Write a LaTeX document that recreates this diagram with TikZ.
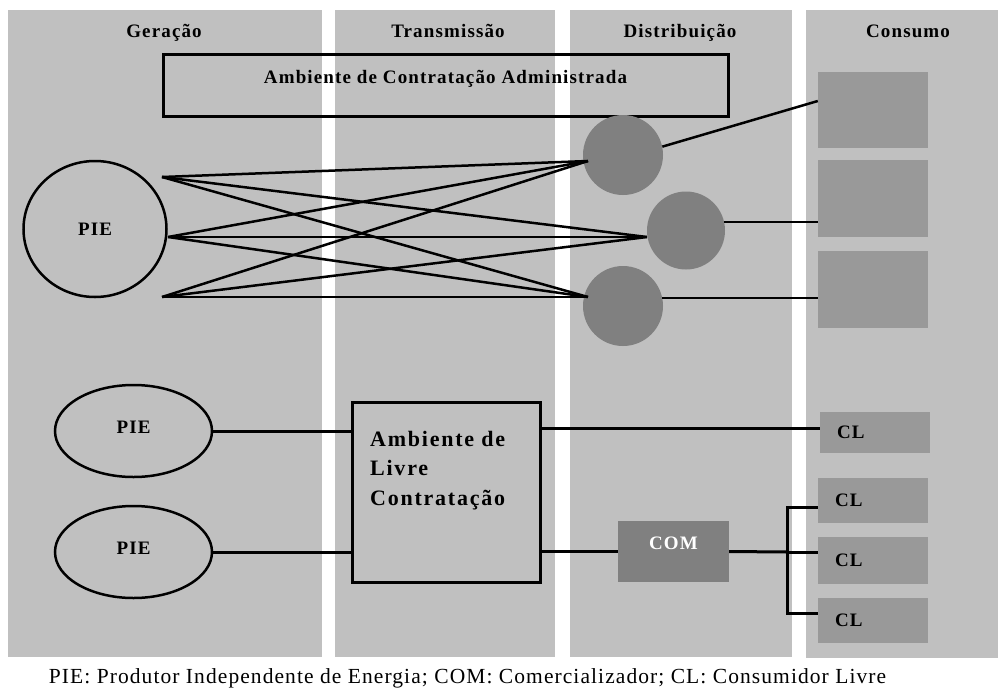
\documentclass[tikz,border=0pt]{standalone}
\usepackage{fontspec}
\setmainfont{Liberation Serif}
\newfontfamily\lblfont[LetterSpace=6]{Liberation Serif}
\newfontfamily\bigfont[LetterSpace=8]{Liberation Serif}
\newfontfamily\capfont[LetterSpace=5]{Liberation Serif}
\usetikzlibrary{shapes.geometric}
\definecolor{panel}{HTML}{C0C0C0}
\definecolor{consbox}{HTML}{999999}
\definecolor{hub}{HTML}{808080}
\begin{document}
\begin{tikzpicture}[x=1pt,y=-1pt,
  hdr/.style={font=\lblfont\bfseries\fontsize{19}{21}\selectfont, anchor=base},
  lbl/.style={font=\lblfont\bfseries\fontsize{19}{21}\selectfont},
  big/.style={font=\bigfont\bfseries\fontsize{22}{29.5}\selectfont},
  gen/.style={ellipse, draw, line width=2.5pt, inner sep=0pt},
  dist/.style={circle, fill=hub, inner sep=0pt},
  cons/.style={rectangle, fill=consbox, inner sep=0pt, minimum width=110pt},
  clbox/.style={rectangle, fill=consbox, lbl, inner xsep=17pt, inner ysep=0pt,
    text width=76pt, align=left},
  fan/.style={line width=2.5pt},
  wire/.style={line width=3pt},
  thin/.style={line width=2pt}]
\useasboundingbox (0,0) rectangle (998,691);
\fill[white] (0,0) rectangle (998,691);
% column backgrounds
\fill[panel] (8,10) rectangle (322,657);
\fill[panel] (335,10) rectangle (555,657);
\fill[panel] (570,10) rectangle (792,657);
\fill[panel] (806,10) rectangle (998,658);
% column titles
\node[hdr] (hgen) at (164,37.5) {Geração};
\node[hdr] (htra) at (448,37.5) {Transmissão};
\node[hdr] (hdis) at (680,37.5) {Distribuição};
\node[hdr] (hcon) at (908,37.5) {Consumo};
% regulated contracting environment
\node[draw, line width=3pt, minimum width=565pt, minimum height=62pt,
  lbl, text height=12.5pt, text depth=15.5pt] (aca) at (445.5,85)
  {Ambiente de Contratação Administrada};
% consumers of the regulated environment
\node[cons, minimum height=76pt] (cons1) at (873,110) {};
\node[cons, minimum height=77pt] (cons2) at (873,198.5) {};
\node[cons, minimum height=77pt] (cons3) at (873,289.5) {};
% distributors
\node[dist, minimum size=80pt] (c1) at (623,155) {};
\node[dist, minimum size=78pt] (c2) at (686,230.5) {};
\node[dist, minimum size=80pt] (c3) at (623,306) {};
% independent producer
\node[gen, minimum width=143pt, minimum height=136pt, lbl] (pie) at (95,229) {PIE};
\coordinate (pa) at (162,177);
\coordinate (pb) at (168,237);
\coordinate (pc) at (162,297);
\coordinate (da) at (588,161);
\coordinate (db) at (647,237);
\coordinate (dc) at (588,297);
\foreach \s in {pa,pb,pc}
  \foreach \t in {da,db,dc}
    \draw[fan] (\s) -- (\t);
% distributor to consumer links
\draw[line width=2.5pt] (c1.12) -- ([yshift=9pt]cons1.west);
\draw[thin] (c2.12) -- (c2.12 -| cons2.west);
\draw[thin] (c3.12) -- (c3.12 -| cons3.west);
% free contracting environment
\node[gen, minimum width=157pt, minimum height=92pt, lbl, text depth=8pt] (pie1) at (133.5,431) {PIE};
\node[gen, minimum width=157pt, minimum height=92pt, lbl, text depth=8pt] (pie2) at (133.5,552) {PIE};
\node[draw, line width=3pt, minimum width=188pt, minimum height=180pt] (alc) at (446,492) {};
\node[big, anchor=north west, align=left, inner sep=0pt] (alctext) at (370,431)
  {Ambiente de\\Livre\\Contratação};
\node[rectangle, fill=hub, minimum width=111pt, minimum height=61pt, lbl,
  text=white, text height=12pt, text depth=16pt] (com) at (673.5,551.5) {COM};
\node[clbox, minimum height=41pt] (cl1) at (875,432.5) {CL};
\node[clbox, minimum height=45pt] (cl2) at (873,500.5) {CL};
\node[clbox, minimum height=47pt] (cl3) at (873,560.5) {CL};
\node[clbox, minimum height=45pt] (cl4) at (873,620.5) {CL};
\draw[wire] (pie1.east) -- (pie1.east -| alc.west);
\draw[wire] (pie2.east) -- (pie2.east -| alc.west);
\draw[wire] ([yshift=4pt]cl1.west -| alc.east) -- ([yshift=4pt]cl1.west);
\draw[wire] (com.west -| alc.east) -- (com.west);
\coordinate (bus) at (787,552);
\coordinate (bt) at (787,507);
\coordinate (bb) at (787,613);
\draw[wire] (com.east) -- (bus);
\draw[wire] (bt -| cl2.west) -- (bt) -- (bb) -- (bb -| cl4.west);
\draw[wire] (bus) -- (bus -| cl3.west);
% legend
\node[font=\capfont\fontsize{21.5}{24}\selectfont] (legend) at (467.5,678)
  {PIE: Produtor Independente de Energia; COM: Comercializador; CL: Consumidor Livre};
\end{tikzpicture}
\end{document}
